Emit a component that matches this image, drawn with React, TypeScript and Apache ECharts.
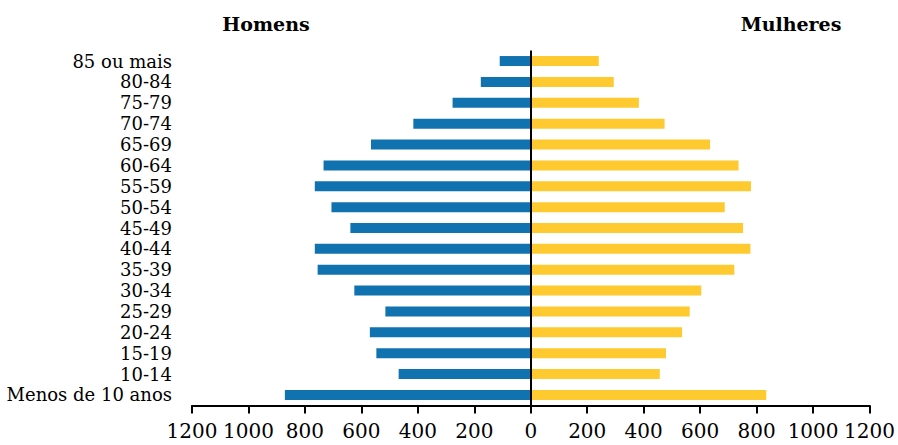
import React, { useEffect, useRef } from "react";
import * as echarts from "echarts";

const categories = [
  "Menos de 10 anos", "10-14", "15-19", "20-24", "25-29", "30-34", "35-39", "40-44",
  "45-49", "50-54", "55-59", "60-64", "65-69", "70-74", "75-79", "80-84", "85 ou mais",
];
const homens = [871, 468, 547, 570, 515, 625, 755, 765, 639, 706, 765, 734, 566, 416, 277, 177, 110];
const mulheres = [834, 457, 479, 536, 563, 604, 721, 778, 752, 687, 780, 736, 635, 474, 383, 294, 241];
const xTicks = { min: -1200, max: 1200, interval: 200 };

const FONT = "DejaVu Serif";

export default function App() {
  const ref = useRef<HTMLDivElement>(null);
  useEffect(() => {
    document.body.style.margin = "0";
    const chart = echarts.init(ref.current!, null, { renderer: "svg" });
    chart.setOption({
      animation: false,
      backgroundColor: "#ffffff",
      textStyle: { fontFamily: FONT },
      graphic: [
        {
          type: "text", x: 266, y: 24,
          style: { text: "Homens", font: `bold 19px "${FONT}"`, fill: "#000", align: "center", verticalAlign: "middle" },
        },
        {
          type: "text", x: 791, y: 24,
          style: { text: "Mulheres", font: `bold 19px "${FONT}"`, fill: "#000", align: "center", verticalAlign: "middle" },
        },
      ],
      grid: { left: 192, right: 27, top: 50.6, bottom: 39.6, containLabel: false },
      xAxis: {
        type: "value",
        min: xTicks.min,
        max: xTicks.max,
        interval: xTicks.interval,
        axisLine: { show: true, onZero: false, lineStyle: { color: "#000", width: 2 } },
        axisTick: { show: true, length: 8, lineStyle: { color: "#000", width: 2 } },
        splitLine: { show: false },
        axisLabel: {
          color: "#000", fontSize: 20, fontFamily: FONT, margin: 16,
          formatter: (v: number) => String(Math.abs(v)),
        },
      },
      yAxis: {
        type: "category",
        data: categories,
        axisLine: { show: false },
        axisTick: { show: false },
        axisLabel: { color: "#000", fontSize: 18, fontFamily: FONT, margin: 20, interval: 0 },
      },
      series: [
        {
          name: "Homens",
          type: "bar",
          stack: "total",
          barWidth: 10,
          itemStyle: { color: "#1172b0" },
          data: homens.map((v) => -v),
        },
        {
          name: "Mulheres",
          type: "bar",
          stack: "total",
          barWidth: 10,
          itemStyle: { color: "#ffca30" },
          data: mulheres,
          markLine: {
            silent: true,
            symbol: ["none", "none"],
            label: { show: false },
            lineStyle: { color: "#000", width: 2, type: "solid" },
            data: [{ xAxis: 0 }],
          },
        },
      ],
    });
    return () => chart.dispose();
  }, []);
  return <div ref={ref} style={{ width: 898, height: 445 }} />;
}
